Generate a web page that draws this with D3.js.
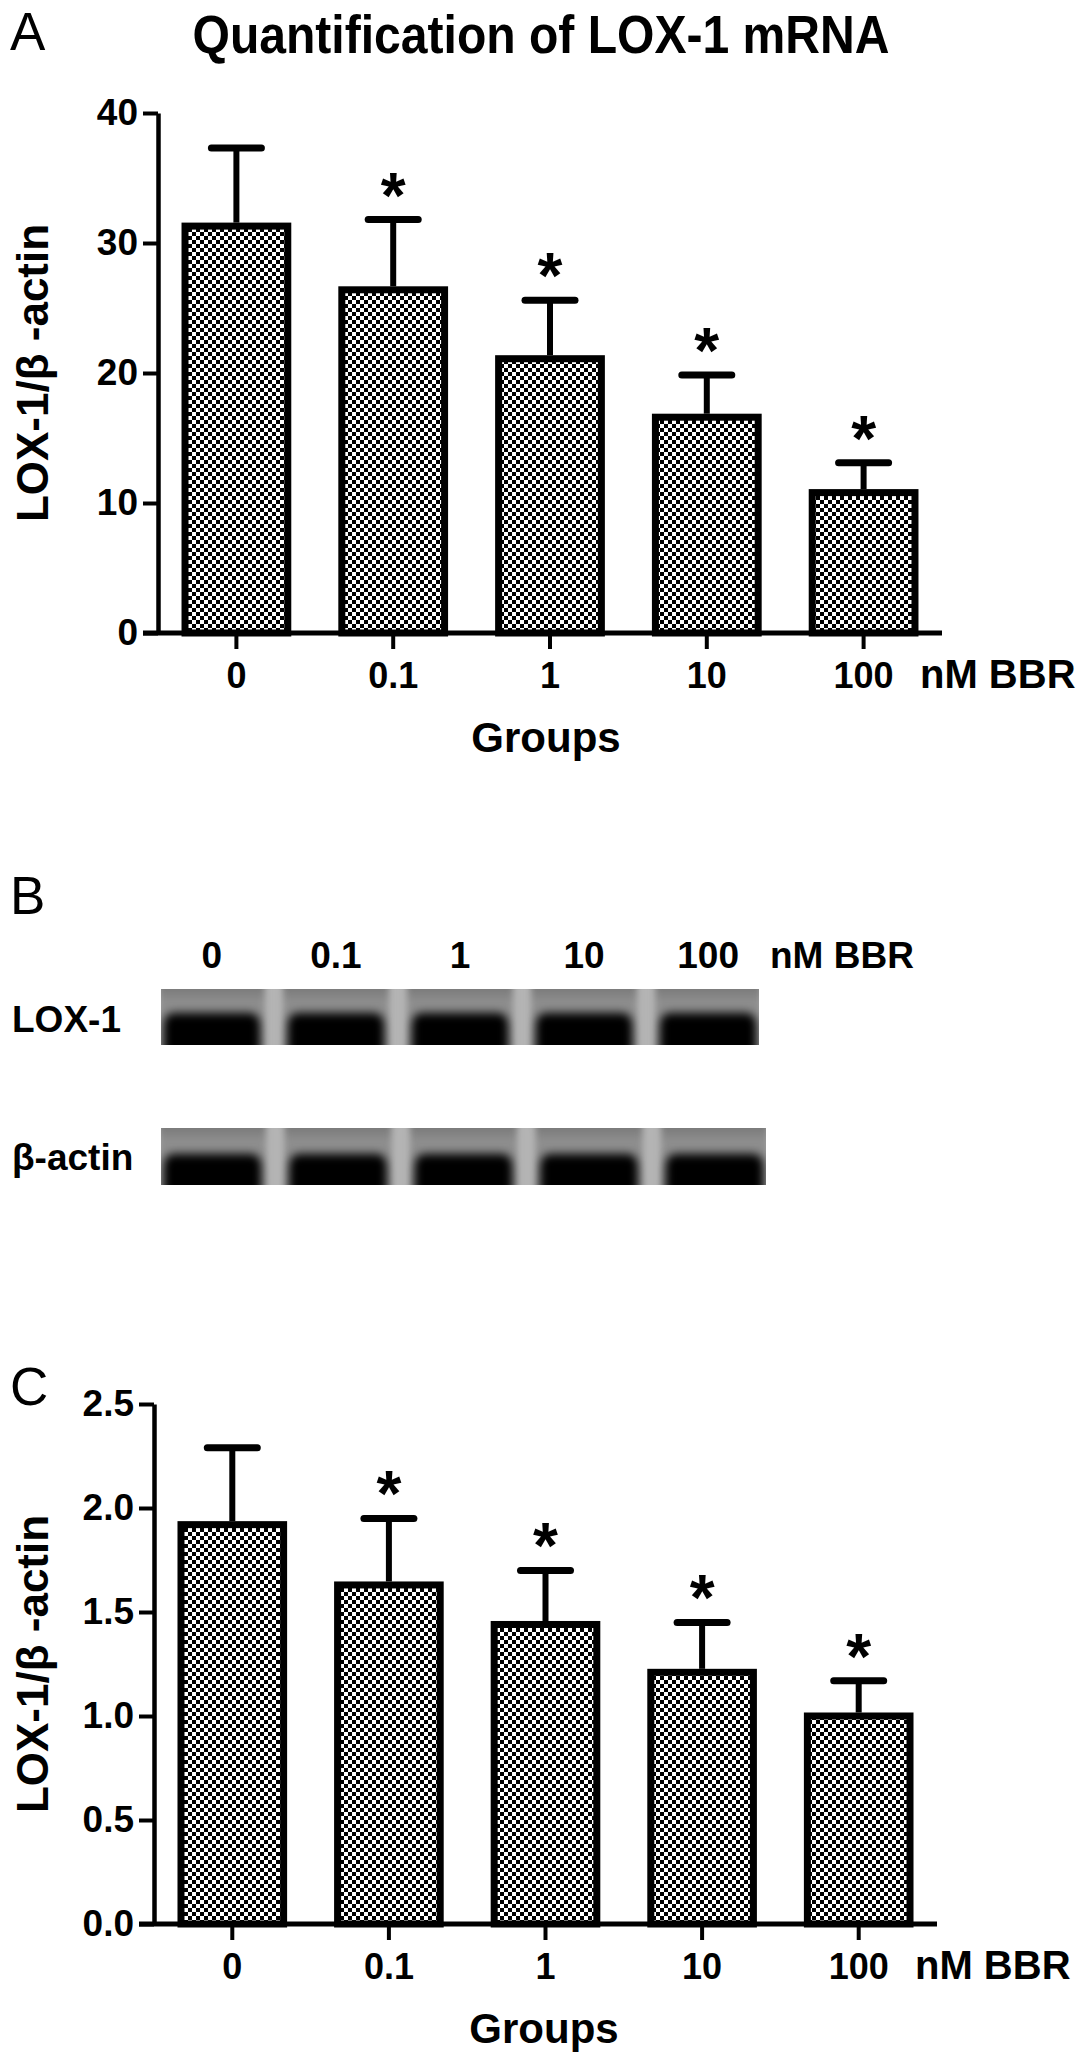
<!DOCTYPE html>
<html>
<head>
<meta charset="utf-8">
<script src="https://cdn.jsdelivr.net/npm/d3@7"></script>
<style>
  body { margin: 0; background: #fff; }
  svg text { font-family: "Liberation Sans", Arial, Helvetica, sans-serif; fill: #000; }
</style>
</head>
<body>
<svg id="fig" width="1087" height="2062"></svg>
<script>
// ---------------- data ----------------
const groups = ["0", "0.1", "1", "10", "100"];
const mrnaMean = [31.3, 26.4, 21.1, 16.6, 10.8];
const mrnaSD = [6.0, 5.4, 4.5, 3.25, 2.3];
const proteinMean = [1.92, 1.63, 1.44, 1.21, 1.00];
const proteinSD = [0.37, 0.32, 0.26, 0.24, 0.17];
const significant = [false, true, true, true, true];
const mrnaTicks = [0, 10, 20, 30, 40];
const proteinTicks = [0, 0.5, 1.0, 1.5, 2.0, 2.5];
const blotRows = ["LOX-1", "β-actin"];
const unitLabel = "nM BBR";
const xTitle = "Groups";
const yTitle = "LOX-1/β -actin";
const chartTitle = "Quantification of LOX-1 mRNA";
const panelLetters = ["A", "B", "C"];

// ---------------- setup ----------------
const svg = d3.select("#fig");
svg.append("rect").attr("width", 1087).attr("height", 2062).attr("fill", "#fff");
const defs = svg.append("defs");

// checkerboard fill pattern
const pat = defs.append("pattern").attr("id", "chk")
  .attr("patternUnits", "userSpaceOnUse").attr("width", 8).attr("height", 8);
pat.append("rect").attr("width", 8).attr("height", 8).attr("fill", "#fff");
pat.append("rect").attr("x", 0).attr("y", 0).attr("width", 4).attr("height", 4).attr("fill", "#000");
pat.append("rect").attr("x", 4).attr("y", 4).attr("width", 4).attr("height", 4).attr("fill", "#000");

// blur filters for the blot
const f1 = defs.append("filter").attr("id", "blurLane").attr("x", "-20%").attr("y", "-20%").attr("width", "140%").attr("height", "140%");
f1.append("feGaussianBlur").attr("stdDeviation", 3);
const f2 = defs.append("filter").attr("id", "blurBand").attr("x", "-20%").attr("y", "-50%").attr("width", "140%").attr("height", "200%");
f2.append("feGaussianBlur").attr("stdDeviation", "4 5");

const lg = defs.append("linearGradient").attr("id", "laneGrad").attr("x1", 0).attr("y1", 0).attr("x2", 0).attr("y2", 1);
lg.append("stop").attr("offset", "0%").attr("stop-color", "#707070");
lg.append("stop").attr("offset", "30%").attr("stop-color", "#8f8f8f");
lg.append("stop").attr("offset", "100%").attr("stop-color", "#808080");

const FONT = "'Liberation Sans', Arial, Helvetica, sans-serif";

// ---------------- bar panel ----------------
function barPanel(o) {
  const g = svg.append("g");
  const y = d3.scaleLinear().domain([0, o.yMax]).range([o.base, o.top]);
  const x = d3.scaleBand().domain(groups).range([o.axisX, o.xEnd])
    .paddingInner(0.3).paddingOuter(0.15);
  const sw = 7;

  // bars
  g.selectAll("rect.bar").data(groups).join("rect").attr("class", "bar")
    .attr("x", d => x(d) + sw / 2)
    .attr("width", x.bandwidth() - sw)
    .attr("y", (d, i) => y(o.mean[i]))
    .attr("height", (d, i) => o.base - y(o.mean[i]))
    .attr("fill", "url(#chk)")
    .attr("stroke", "#000").attr("stroke-width", sw);

  // error bars (upper only)
  const cx = d => x(d) + x.bandwidth() / 2;
  g.selectAll("line.err").data(groups).join("line").attr("class", "err")
    .attr("x1", cx).attr("x2", cx)
    .attr("y1", (d, i) => y(o.mean[i]) - sw / 2)
    .attr("y2", (d, i) => y(o.mean[i] + o.sd[i]))
    .attr("stroke", "#000").attr("stroke-width", 6);
  g.selectAll("line.cap").data(groups).join("line").attr("class", "cap")
    .attr("x1", d => cx(d) - 25).attr("x2", d => cx(d) + 25)
    .attr("y1", (d, i) => y(o.mean[i] + o.sd[i]))
    .attr("y2", (d, i) => y(o.mean[i] + o.sd[i]))
    .attr("stroke", "#000").attr("stroke-width", 7).attr("stroke-linecap", "round");

  // significance stars
  g.selectAll("text.star").data(groups.filter((d, i) => significant[i])).join("text").attr("class", "star")
    .attr("x", cx)
    .attr("y", d => { const i = groups.indexOf(d); return y(o.mean[i] + o.sd[i]) - 2; })
    .attr("text-anchor", "middle").attr("font-size", 64).attr("font-weight", "bold")
    .text("*");

  // y axis
  const ya = g.append("g").attr("transform", `translate(${o.axisX},0)`)
    .call(d3.axisLeft(y).tickValues(o.ticks).tickFormat(o.fmt).tickSize(15).tickSizeOuter(0).tickPadding(5));
  ya.select(".domain").attr("stroke", "#000").attr("stroke-width", 4.5);
  ya.selectAll(".tick line").attr("stroke", "#000").attr("stroke-width", 4);
  ya.selectAll(".tick text").attr("font-size", 37).attr("font-weight", "bold")
    .attr("font-family", FONT).attr("fill", "#000");

  // x axis
  const xa = g.append("g").attr("transform", `translate(0,${o.base})`)
    .call(d3.axisBottom(x).tickSize(16).tickSizeOuter(0).tickPadding(13));
  xa.select(".domain").remove();
  xa.selectAll(".tick line").attr("stroke", "#000").attr("stroke-width", 4);
  xa.selectAll(".tick text").attr("font-size", 36).attr("font-weight", "bold")
    .attr("font-family", FONT).attr("fill", "#000");
  g.append("line").attr("x1", o.axisX - 15).attr("x2", o.xEnd)
    .attr("y1", o.base).attr("y2", o.base)
    .attr("stroke", "#000").attr("stroke-width", 5);

  // unit label
  g.append("text").attr("x", o.xEnd - 22).attr("y", o.base + 55)
    .attr("font-size", 40).attr("font-weight", "bold").text(unitLabel);
  // x title
  g.append("text").attr("x", o.groupsX).attr("y", o.groupsY)
    .attr("text-anchor", "middle").attr("font-size", 42).attr("font-weight", "bold").text(xTitle);
  // y title
  g.append("text").attr("transform", `translate(48,${(o.base + o.top) / 2}) rotate(-90)`)
    .attr("text-anchor", "middle").attr("font-size", 44).attr("font-weight", "bold").text(yTitle);
  // panel letter
  g.append("text").attr("x", 10).attr("y", o.letterY)
    .attr("font-size", 53).text(o.letter);
}

// ---------------- Panel A ----------------
svg.append("text").attr("x", 541).attr("y", 53).attr("text-anchor", "middle")
  .attr("font-size", 54).attr("font-weight", "bold")
  .attr("textLength", 697).attr("lengthAdjust", "spacingAndGlyphs")
  .text(chartTitle);

barPanel({
  mean: mrnaMean, sd: mrnaSD, ticks: mrnaTicks, fmt: d3.format("d"), yMax: 40,
  axisX: 158, xEnd: 942, base: 633, top: 113,
  groupsX: 546, groupsY: 752, letter: panelLetters[0], letterY: 50
});

// ---------------- Panel B (western blot) ----------------
const gb = svg.append("g");
gb.append("text").attr("x", 10).attr("y", 914).attr("font-size", 53).text(panelLetters[1]);

const lane = d3.scaleBand().domain(groups).range([161, 759]).paddingInner(0.18).paddingOuter(0);
gb.selectAll("text.lane").data(groups).join("text").attr("class", "lane")
  .attr("x", d => lane(d) + lane.bandwidth() / 2).attr("y", 968)
  .attr("text-anchor", "middle").attr("font-size", 37).attr("font-weight", "bold").text(d => d);
gb.append("text").attr("x", 770).attr("y", 968).attr("font-size", 37).attr("font-weight", "bold").text(unitLabel);

const blotBoxes = [
  { x0: 161, x1: 759, y0: 989, y1: 1045, bandTop: 1013, labelY: 1032 },
  { x0: 161, x1: 766, y0: 1128, y1: 1185, bandTop: 1154, labelY: 1170 }
];
blotRows.forEach((name, r) => {
  const b = blotBoxes[r];
  const ls = lane.copy().range([b.x0, b.x1]);
  const cid = "clipBlot" + r;
  defs.append("clipPath").attr("id", cid).append("rect")
    .attr("x", b.x0).attr("y", b.y0).attr("width", b.x1 - b.x0).attr("height", b.y1 - b.y0);
  const gg = gb.append("g").attr("clip-path", `url(#${cid})`);
  gg.append("rect").attr("x", b.x0).attr("y", b.y0).attr("width", b.x1 - b.x0).attr("height", b.y1 - b.y0)
    .attr("fill", "#b4b4b4");
  gg.selectAll("rect.ln").data(groups).join("rect").attr("class", "ln")
    .attr("x", d => ls(d) - 2).attr("width", ls.bandwidth() + 4)
    .attr("y", b.y0 - 8).attr("height", b.y1 - b.y0 + 16)
    .attr("fill", "url(#laneGrad)").attr("filter", "url(#blurLane)");
  gg.selectAll("rect.band").data(groups).join("rect").attr("class", "band")
    .attr("x", d => ls(d) + 3).attr("width", ls.bandwidth() - 6)
    .attr("y", b.bandTop).attr("height", b.y1 - b.bandTop + 14)
    .attr("rx", 10).attr("fill", "#050505").attr("filter", "url(#blurBand)");
  gb.append("text").attr("x", 12).attr("y", b.labelY)
    .attr("font-size", 37).attr("font-weight", "bold").text(name);
});

// ---------------- Panel C ----------------
barPanel({
  mean: proteinMean, sd: proteinSD, ticks: proteinTicks, fmt: d3.format(".1f"), yMax: 2.5,
  axisX: 154, xEnd: 937, base: 1924, top: 1404,
  groupsX: 544, groupsY: 2043, letter: panelLetters[2], letterY: 1405
});
</script>
</body>
</html>
